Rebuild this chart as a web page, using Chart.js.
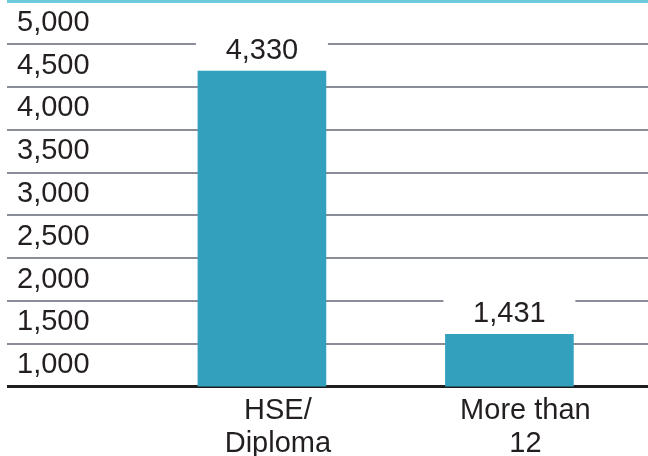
<!DOCTYPE html>
<html>
<head>
<meta charset="utf-8">
<script src="https://cdn.jsdelivr.net/npm/chart.js@4.4.1/dist/chart.umd.min.js"></script>
<style>
    html, body { margin: 0; padding: 0; background: #fff; }
</style>
</head>
<body>
<canvas id="eduChart" width="648" height="456"></canvas>
<script>
// data
const categories = [["HSE/", "Diploma"], ["More than", "12"]];
const values = [4330, 1431];
const tickLabels = [1000, 1500, 2000, 2500, 3000, 3500, 4000, 4500, 5000];
const gridLines = [750, 1250, 1750, 2250, 2750, 3250, 3750, 4250, 4750, 5250];

const FONT = "'Liberation Sans', Arial, sans-serif";
const fmt = v => v.toLocaleString("en-US");

// value labels over the bars, on a white box that cuts the grid line
const barLabels = {
    id: "barLabels",
    afterDatasetsDraw(chart) {
        const ctx = chart.ctx;
        ctx.save();
        ctx.font = "29px " + FONT;
        ctx.textAlign = "center";
        ctx.textBaseline = "middle";
        chart.getDatasetMeta(0).data.forEach((bar, i) => {
            ctx.fillStyle = "#fff";
            ctx.fillRect(bar.x - bar.width / 2 - 2, bar.y - 37, bar.width + 4, 35);
            ctx.fillStyle = "#231f20";
            ctx.fillText(fmt(values[i]), bar.x, bar.y - 20);
        });
        ctx.restore();
    }
};

new Chart(document.getElementById("eduChart").getContext("2d"), {
    type: "bar",
    data: {
        datasets: [
            {
                data: values.map((v, i) => ({ x: i + 1, y: v })),
                backgroundColor: "#33a1bd",
                borderWidth: 0,
                barThickness: 128,
                xAxisID: "x",
                yAxisID: "yBar",
            },
        ],
    },
    options: {
        responsive: false,
        animation: false,
        layout: { padding: { top: 1.5, left: 0, right: 0, bottom: -12 } },
        plugins: {
            legend: { display: false },
            tooltip: { enabled: false },
        },
        scales: {
            x: {
                type: "linear",
                offset: false,
                min: -0.03,
                max: 2.56,
                afterBuildTicks: s => { s.ticks = categories.map((c, i) => ({ value: i + 1 })); },
                grid: { display: false, drawTicks: false },
                border: { display: false },
                ticks: {
                    padding: 8,
                    labelOffset: 16,
                    autoSkip: false,
                    maxRotation: 0,
                    color: "#231f20",
                    font: { family: FONT, size: 29, lineHeight: 1.13 },
                    callback: v => categories[v - 1],
                },
            },
            yLabels: {
                position: "left",
                min: 750,
                max: 5250,
                afterBuildTicks: s => { s.ticks = tickLabels.map(v => ({ value: v })); },
                afterFit: s => { s.width = 7; s.paddingTop = 0; s.paddingBottom = 0; },
                grid: { display: false, drawTicks: false },
                border: { display: false },
                ticks: {
                    mirror: true,
                    padding: 10,
                    color: "#231f20",
                    font: { family: FONT, size: 29 },
                    callback: v => fmt(v),
                },
            },
            yGrid: {
                position: "left",
                min: 750,
                max: 5250,
                afterBuildTicks: s => { s.ticks = gridLines.map(v => ({ value: v })); },
                border: { display: false },
                ticks: { display: false },
                grid: {
                    drawTicks: false,
                    color: c => c.tick.value === 750 ? "#1e1e1e" : c.tick.value === 5250 ? "#6ccbdc" : "#8a8d97",
                    lineWidth: c => c.tick.value === 750 ? 3 : c.tick.value === 5250 ? 3 : 2,
                },
            },
            yBar: {
                display: false,
                min: 858,
                max: 5096,
            },
        },
    },
    plugins: [barLabels],
});
</script>
</body>
</html>
